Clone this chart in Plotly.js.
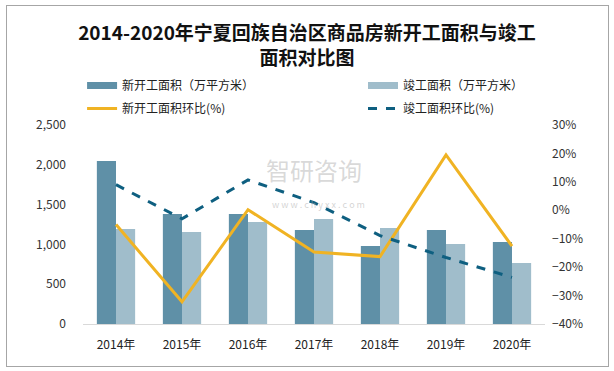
<!DOCTYPE html>
<html><head><meta charset="utf-8">
<script src="https://cdn.plot.ly/plotly-3.0.1.min.js"></script>
<style>body{margin:0;background:#fff}#wrap{position:relative;width:614px;height:371px}#frame{position:absolute;left:6px;top:5px;width:603px;height:362px;border:1px solid #a6a6a6;pointer-events:none;box-sizing:border-box}</style>
</head><body><div id="wrap"><div id="chart" style="width:614px;height:371px"></div><div id="frame"></div></div>
<script>
const years = ['2014年','2015年','2016年','2017年','2018年','2019年','2020年'];
const newStart = [2048, 1382, 1382, 1181, 980, 1181, 1030];
const completed = [1193, 1156, 1281, 1319, 1206, 1005, 766];
const newStartRatio = [-5.0, -32.2, 0.2, -14.7, -16.3, 19.5, -12.6];
const completedRatio = [9.0, -3.0, 10.7, 2.7, -8.9, -16.6, -23.6];

const cDark = '#5f90a7', cLight = '#a0bdcb', cOrange = '#f0b323', cTeal = '#0e5f80';
const font = "'Noto Sans CJK SC', 'Noto Sans', sans-serif";

const traces = [
  {type:'bar', x:years, y:newStart, name:'新开工面积（万平方米）', marker:{color:cDark}, showlegend:false},
  {type:'bar', x:years, y:completed, name:'竣工面积（万平方米）', marker:{color:cLight}, showlegend:false},
  {type:'scatter', mode:'lines', x:[null], y:[null], name:'新开工面积（万平方米）', line:{color:cDark, width:7}, legend:'legend', legendgroup:'a'},
  {type:'scatter', mode:'lines', x:years, y:newStartRatio, yaxis:'y2', name:'新开工面积环比(%)', line:{color:cOrange, width:3}, legend:'legend', legendgroup:'b'},
  {type:'scatter', mode:'lines', x:[null], y:[null], name:'竣工面积（万平方米）', line:{color:cLight, width:7}, legend:'legend2', legendgroup:'c'},
  {type:'scatter', mode:'lines', x:years, y:completedRatio, yaxis:'y2', name:'竣工面积环比(%)', line:{color:cTeal, width:3, dash:'dash'}, legend:'legend2', legendgroup:'d'}
];

const legendBase = {orientation:'v', xanchor:'left', yref:'container', y:1-71/371, yanchor:'top', font:{size:12, color:'#222'}, bgcolor:'rgba(0,0,0,0)', traceorder:'grouped', tracegroupgap:4};

const layout = {
  width:614, height:371,
  margin:{l:83, r:69, t:125, b:47},
  paper_bgcolor:'#fff', plot_bgcolor:'#fff',
  font:{family:font, size:12, color:'#333'},
  title:{text:'<b>2014-2020年宁夏回族自治区商品房新开工面积与竣工<br>面积对比图</b>', x:0.5, xanchor:'center', yref:'container', y:1-40/371, yanchor:'middle', font:{family:"'Noto Sans CJK SC', serif", size:19, color:'#111'}},
  barmode:'group', bargap:0.42, bargroupgap:0,
  xaxis:{type:'category', showline:true, linecolor:'#d9d9d9', linewidth:1, ticks:'', showgrid:false, tickfont:{size:12, color:'#222'}, ticklabelstandoff:10},
  yaxis:{range:[0,2500], dtick:500, tickformat:',d', showgrid:false, zeroline:false, ticks:'', tickfont:{size:12, color:'#333'}, ticklabelstandoff:16},
  yaxis2:{overlaying:'y', side:'right', range:[-40,30], dtick:10, ticksuffix:'%', showgrid:false, zeroline:false, ticks:'', tickfont:{size:12, color:'#333'}, ticklabelstandoff:6},
  legend:Object.assign({}, legendBase, {x:-0.002}),
  legend2:Object.assign({}, legendBase, {x:(363-83)/462}),
  annotations:[
    {text:'智研咨询', xref:'paper', yref:'paper', x:0.5, y:0.68, yanchor:'bottom', showarrow:false, font:{size:24, color:'rgba(170,170,170,0.45)'}},
    {text:'w w w . c h y x x . c o m', xref:'paper', yref:'paper', x:0.51, y:0.645, yanchor:'top', showarrow:false, font:{size:9, color:'rgba(170,170,170,0.5)'}}
  ],
  showlegend:true
};
Plotly.newPlot('chart', traces, layout, {displayModeBar:false, staticPlot:true});
</script></body></html>
